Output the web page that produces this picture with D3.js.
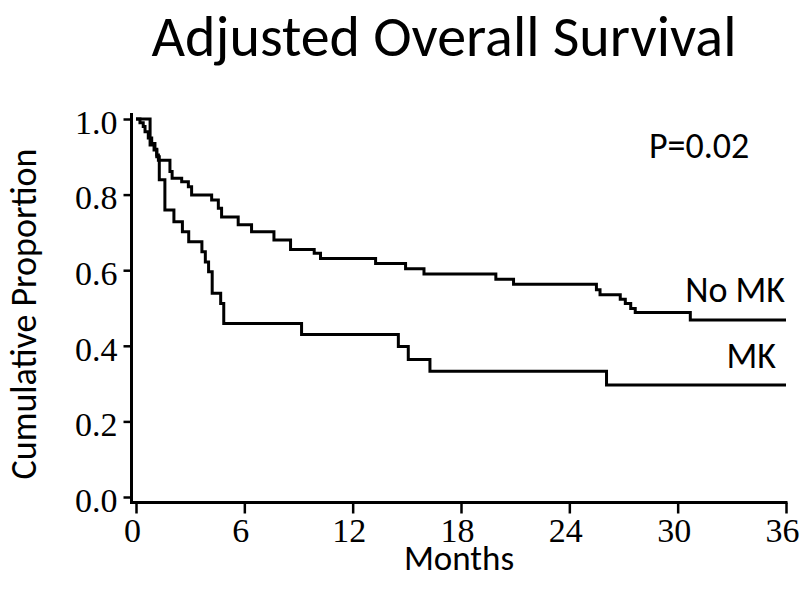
<!DOCTYPE html>
<html>
<head>
<meta charset="utf-8">
<script src="https://cdn.jsdelivr.net/npm/d3@7"></script>
<style>
  html, body { margin: 0; padding: 0; background: #fff; }
  svg { display: block; }
</style>
</head>
<body>
<svg id="chart" width="800" height="595"></svg>
<script>
// ---- Data ----
const title = "Adjusted Overall Survival";
const xLabel = "Months";
const yLabel = "Cumulative Proportion";
const pValueText = "P=0.02";
const xTicks = [0, 6, 12, 18, 24, 30, 36];
const yTicks = [0.0, 0.2, 0.4, 0.6, 0.8, 1.0];

const noMkMonths = [0, 0.22, 0.4, 0.5, 0.68, 0.87, 1.05, 1.15, 1.24, 1.88, 2.0, 2.53, 2.9, 3.08, 4.19, 4.56, 4.74, 5.66, 6.4, 7.64, 8.56, 9.87, 10.22, 13.27, 14.93, 15.95, 19.93, 20.91, 25.5, 25.7, 26.82, 27.1, 27.4, 27.65, 30.7, 36];
const noMkSurv   = [1.0, 0.99, 0.98, 0.966, 0.95, 0.935, 0.92, 0.905, 0.891, 0.861, 0.843, 0.834, 0.821, 0.799, 0.786, 0.764, 0.741, 0.72, 0.702, 0.68, 0.655, 0.645, 0.631, 0.618, 0.604, 0.59, 0.576, 0.563, 0.548, 0.535, 0.523, 0.512, 0.499, 0.488, 0.468, 0.468];

const mkMonths = [0, 0.78, 1.0, 1.15, 1.29, 1.6, 2.1, 2.57, 2.92, 3.65, 3.84, 4.02, 4.22, 4.69, 4.86, 9.17, 14.53, 15.08, 16.28, 26.06, 36];
const mkSurv   = [1.0, 0.931, 0.918, 0.9, 0.839, 0.759, 0.728, 0.702, 0.675, 0.649, 0.622, 0.596, 0.539, 0.512, 0.459, 0.430, 0.398, 0.364, 0.333, 0.296, 0.296];

const seriesNames = ["No MK", "MK"];

// ---- Drawing ----
const svg = d3.select("#chart");
const x = d3.scaleLinear().domain([0, 36]).range([136, 786]);
const y = d3.scaleLinear().domain([0, 1]).range([497, 119]);

const calibri = "Carlito, Lato, 'Open Sans', sans-serif";
const serif = "'Liberation Serif', 'DejaVu Serif', serif";

// Title
svg.append("text")
  .attr("x", 444).attr("y", 56)
  .attr("text-anchor", "middle")
  .attr("font-family", calibri)
  .attr("font-size", 58)
  .attr("fill", "#000")
  .text(title);

// Y axis
const yAxis = d3.axisLeft(y).tickValues(yTicks).tickFormat(d3.format(".1f")).tickSize(8).tickPadding(6);
const gy = svg.append("g").attr("transform", "translate(131.5,0)").call(yAxis);
gy.select(".domain").remove();
gy.append("line").attr("x1", 0).attr("x2", 0).attr("y1", 113).attr("y2", 503)
  .attr("stroke", "#000").attr("stroke-width", 3);
gy.selectAll(".tick line").attr("stroke", "#000").attr("stroke-width", 2.5);
gy.selectAll(".tick text").attr("font-family", serif).attr("font-size", 34).attr("fill", "#000")
  .attr("dy", "0.42em");

// X axis
const xAxis = d3.axisBottom(x).tickValues(xTicks).tickFormat(d3.format("d")).tickSize(11).tickPadding(4);
const gx = svg.append("g").attr("transform", "translate(0,502.5)").call(xAxis);
gx.select(".domain").remove();
gx.append("line").attr("x1", 130).attr("x2", 787.5).attr("y1", 0).attr("y2", 0)
  .attr("stroke", "#000").attr("stroke-width", 3);
gx.selectAll(".tick line").attr("stroke", "#000").attr("stroke-width", 2.5);
gx.selectAll(".tick text").attr("font-family", serif).attr("font-size", 34).attr("fill", "#000")
  .attr("dx", -4);

// Curves
const line = d3.line()
  .x(d => x(d[0])).y(d => y(d[1]))
  .curve(d3.curveStepAfter);

const noMkData = noMkMonths.map((m, i) => [m, noMkSurv[i]]);
const mkData = mkMonths.map((m, i) => [m, mkSurv[i]]);

[noMkData, mkData].forEach(data => {
  svg.append("path")
    .datum(data)
    .attr("d", line)
    .attr("fill", "none")
    .attr("stroke", "#000")
    .attr("stroke-width", 3)
    .attr("stroke-linejoin", "miter");
});

// Series labels
svg.append("text")
  .attr("x", 785).attr("y", 302)
  .attr("text-anchor", "end")
  .attr("font-family", calibri).attr("font-size", 36).attr("fill", "#000")
  .text(seriesNames[0]);
svg.append("text")
  .attr("x", 776).attr("y", 368)
  .attr("text-anchor", "end")
  .attr("font-family", calibri).attr("font-size", 36).attr("fill", "#000")
  .text(seriesNames[1]);

// P value
svg.append("text")
  .attr("x", 649).attr("y", 158)
  .attr("font-family", calibri).attr("font-size", 36).attr("fill", "#000")
  .text(pValueText);

// Axis titles
svg.append("text")
  .attr("x", 459).attr("y", 570)
  .attr("text-anchor", "middle")
  .attr("font-family", calibri).attr("font-size", 35).attr("fill", "#000")
  .text(xLabel);
svg.append("text")
  .attr("transform", "translate(36,314) rotate(-90)")
  .attr("text-anchor", "middle")
  .attr("font-family", calibri).attr("font-size", 36).attr("fill", "#000")
  .text(yLabel);
</script>
</body>
</html>
